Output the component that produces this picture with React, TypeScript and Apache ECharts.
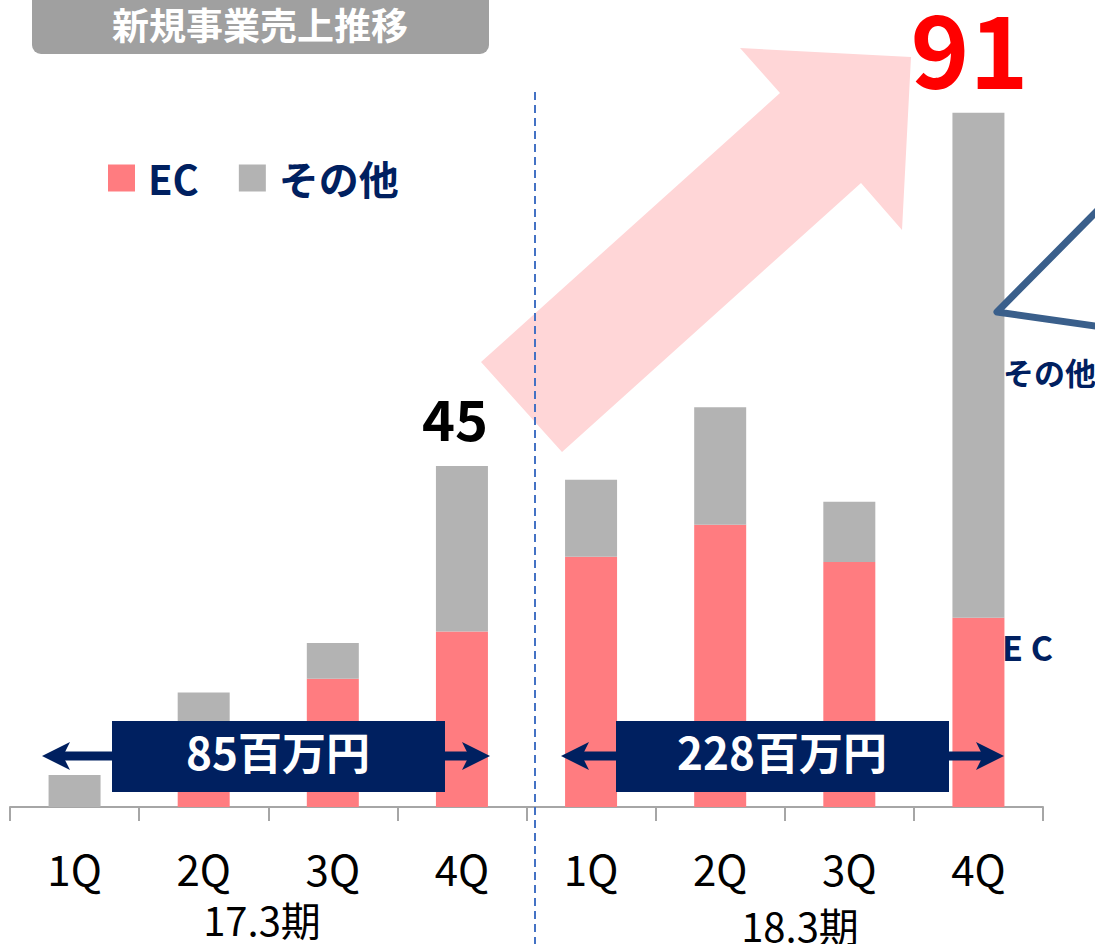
import React, { useEffect, useRef } from 'react';
import * as echarts from 'echarts';

const categories = ['1Q', '2Q', '3Q', '4Q', '1Q', '2Q', '3Q', '4Q'];
const ecValues = [0, 10.5, 16.8, 23.0, 32.8, 37.0, 32.1, 24.8];
const otherValues = [4.2, 4.5, 4.7, 21.7, 10.1, 15.4, 7.9, 66.2];
const seriesNames = ['EC', 'その他'];
const periods = ['17.3期', '18.3期'];
const periodTotals = ['85百万円', '228百万円'];
const titleText = '新規事業売上推移';

const FF = "'Noto Sans CJK JP', 'Noto Sans', sans-serif";
const NAVY = '#002060';

function totalAt(i: number) {
  return Math.round(ecValues[i] + otherValues[i]);
}

function doubleArrow(left: number, right: number, y: number) {
  return [
    { type: 'line', z: 20, silent: true, shape: { x1: left + 20, y1: y, x2: right - 20, y2: y }, style: { stroke: NAVY, lineWidth: 9 } },
    { type: 'polygon', z: 21, silent: true, shape: { points: [[left, y], [left + 28, y - 14], [left + 21, y], [left + 28, y + 14]] }, style: { fill: NAVY } },
    { type: 'polygon', z: 21, silent: true, shape: { points: [[right, y], [right - 28, y - 14], [right - 21, y], [right - 28, y + 14]] }, style: { fill: NAVY } },
  ];
}

export default function App() {
  const ref = useRef<HTMLDivElement>(null);
  useEffect(() => {
    const chart = echarts.init(ref.current!, null, { renderer: 'svg' });
    const option: any = {
      animation: false,
      textStyle: { fontFamily: FF },
      grid: { left: 10, right: 52, top: 44, bottom: 137 },
      legend: {
        data: seriesNames,
        left: 108,
        top: 158,
        padding: 0,
        icon: 'rect',
        itemWidth: 27,
        itemHeight: 27,
        itemGap: 40,
        selectedMode: false,
        textStyle: { fontSize: 40, fontWeight: 'bold', color: NAVY, fontFamily: FF, padding: [0, 0, 0, 8] },
      },
      xAxis: {
        type: 'category',
        data: categories,
        axisLine: { lineStyle: { color: '#a6a6a6', width: 2 } },
        axisTick: { show: true, length: 14, lineStyle: { color: '#a6a6a6', width: 2 } },
        axisLabel: { fontSize: 42, color: '#000', margin: 39, fontFamily: FF },
      },
      yAxis: { type: 'value', min: 0, max: 100, show: false, splitLine: { show: false } },
      series: [
        {
          name: seriesNames[0],
          type: 'bar',
          stack: 'total',
          barWidth: 52,
          itemStyle: { color: '#ff7c80' },
          data: ecValues,
        },
        {
          name: seriesNames[1],
          type: 'bar',
          stack: 'total',
          barWidth: 52,
          itemStyle: { color: '#b3b3b3' },
          data: otherValues.map((v, i) => {
            if (i === 3) {
              return {
                value: v,
                label: {
                  show: true, position: 'top', distance: 21, offset: [-7, 0],
                  formatter: () => String(totalAt(i)),
                  fontSize: 56, fontWeight: 'bold', color: '#000', fontFamily: FF,
                },
              };
            }
            if (i === 7) {
              return {
                value: v,
                label: {
                  show: true, position: 'top', distance: 22, offset: [-9, 0],
                  formatter: () => String(totalAt(i)),
                  fontSize: 100, lineHeight: 90, fontWeight: 'bold', color: '#ff0000', fontFamily: FF,
                },
              };
            }
            return v;
          }),
        },
      ],
      graphic: [
        { type: 'rect', z: 5, silent: true, shape: { x: 32, y: -12, width: 457, height: 66, r: 9 }, style: { fill: '#a0a0a0' } },
        { type: 'text', z: 6, silent: true, x: 260, y: 24, style: { text: titleText, fill: '#fff', font: `bold 37px ${FF}`, align: 'center', verticalAlign: 'middle' } },
        { type: 'polygon', z: 1, silent: true, shape: { points: [[481, 362], [780, 93], [740, 48], [911, 57], [902, 230], [861, 183], [562, 452]] }, style: { fill: '#ffd6d7' } },
        { type: 'line', z: 10, silent: true, shape: { x1: 535, y1: 92, x2: 535, y2: 944 }, style: { stroke: '#4472c4', lineWidth: 2, lineDash: [8, 5] } },
        ...doubleArrow(42, 490, 756),
        ...doubleArrow(561, 1004, 756),
        { type: 'rect', z: 22, silent: true, shape: { x: 112, y: 721, width: 333, height: 71 }, style: { fill: NAVY } },
        { type: 'text', z: 23, silent: true, x: 278, y: 751, style: { text: periodTotals[0], fill: '#fff', font: `bold 44px ${FF}`, align: 'center', verticalAlign: 'middle' } },
        { type: 'rect', z: 22, silent: true, shape: { x: 616, y: 721, width: 333, height: 71 }, style: { fill: NAVY } },
        { type: 'text', z: 23, silent: true, x: 782, y: 751, style: { text: periodTotals[1], fill: '#fff', font: `bold 44px ${FF}`, align: 'center', verticalAlign: 'middle' } },
        { type: 'polyline', z: 15, silent: true, shape: { points: [[1102, 206], [997, 312], [1102, 327]] }, style: { stroke: '#3a5f8b', lineWidth: 7, lineJoin: 'round', lineCap: 'round', fill: 'none' } },
        { type: 'text', z: 15, silent: true, x: 1003, y: 371, style: { text: seriesNames[1], fill: NAVY, font: `bold 31px ${FF}`, align: 'left', verticalAlign: 'middle' } },
        { type: 'text', z: 15, silent: true, x: 1002, y: 646, style: { text: 'E C', fill: NAVY, font: `bold 34px ${FF}`, align: 'left', verticalAlign: 'middle' } },
        { type: 'text', z: 15, silent: true, x: 262, y: 919, style: { text: periods[0], fill: '#000', font: `40px ${FF}`, align: 'center', verticalAlign: 'middle' } },
        { type: 'text', z: 15, silent: true, x: 800, y: 925, style: { text: periods[1], fill: '#000', font: `40px ${FF}`, align: 'center', verticalAlign: 'middle' } },
      ],
    };
    chart.setOption(option);
    return () => chart.dispose();
  }, []);
  return <div ref={ref} style={{ position: 'absolute', left: 0, top: 0, width: 1095, height: 944 }} />;
}
